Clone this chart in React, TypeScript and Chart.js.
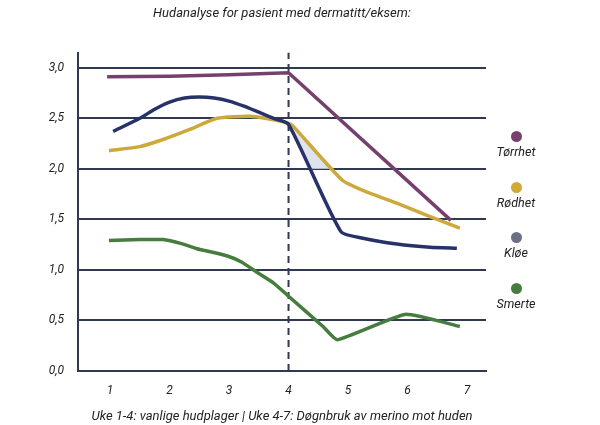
import React, { useEffect, useRef } from "react";
import { Chart, registerables } from "chart.js";

Chart.register(...registerables);

// ---- Text ----
const chartTitle = "Hudanalyse for pasient med dermatitt/eksem:";
const xAxisTitle = "Uke 1-4: vanlige hudplager | Uke 4-7: Døgnbruk av merino mot huden";

// ---- Ticks ----
const weekTicks = [1, 2, 3, 4, 5, 6, 7];
const valueTicks = [0, 0.5, 1, 1.5, 2, 2.5, 3];

// ---- Legend ----
const seriesNames = ["Tørrhet", "Rødhet", "Kløe", "Smerte"];
const legendColors = ["#77416f", "#cfa93a", "#6b7084", "#477c3f"];

// ---- Series (week, value) ----
const torrhetWeeks = [0.95, 2.0, 3.0, 4.0, 6.73];
const torrhetValues = [2.91, 2.915, 2.93, 2.95, 1.49];

const rodhetWeeks = [0.98, 1.5, 1.89, 2.34, 2.8, 3.35, 3.7, 4.0, 4.08, 4.9, 5.26, 5.82, 6.38, 6.88];
const rodhetValues = [2.18, 2.22, 2.29, 2.39, 2.5, 2.52, 2.49, 2.45, 2.42, 1.89, 1.785, 1.66, 1.528, 1.413];

const kloeWeeks = [1.05, 1.5, 1.75, 2.0, 2.25, 2.5, 2.75, 3.0, 3.25, 3.5, 3.75, 4.0, 4.88, 5.25, 5.82, 6.38, 6.83];
const kloeValues = [2.37, 2.5, 2.59, 2.66, 2.7, 2.71, 2.7, 2.67, 2.62, 2.56, 2.5, 2.44, 1.379, 1.314, 1.257, 1.225, 1.215];

const smerteWeeks = [0.98, 1.5, 1.89, 2.2, 2.46, 2.96, 3.2, 3.46, 3.75, 4.0, 4.58, 4.82, 5.96, 6.88];
const smerteValues = [1.29, 1.3, 1.3, 1.26, 1.21, 1.14, 1.08, 0.98, 0.87, 0.74, 0.44, 0.31, 0.56, 0.44];

// dashed marker at the change of regime
const changeWeek = 4;
const axisTop = 3.15;

// shaded gap between Rødhet and Kløe (above 2,0)
const shadeWeeks = [4.0, 4.08, 4.7, 4.36];
const shadeValues = [2.44, 2.42, 2.0, 2.0];

const colors = {
  torrhet: "#76406e",
  rodhet: "#cda93b",
  kloe: "#27326a",
  smerte: "#467c3d",
  grid: "#2f3a52",
  shade: "#dfe4ec",
  text: "#222222",
};

const fontFamily = "Roboto, 'DejaVu Sans', sans-serif";

const pts = (xs: number[], ys: number[]) => xs.map((x, i) => ({ x, y: ys[i] }));

export default function App() {
  const canvasRef = useRef<HTMLCanvasElement | null>(null);

  useEffect(() => {
    document.body.style.margin = "0";
    const canvas = canvasRef.current;
    if (!canvas) return;
    const chart = new Chart(canvas, {
      type: "line",
      data: {
        datasets: [
          {
            label: seriesNames[2],
            data: pts(kloeWeeks, kloeValues),
            borderColor: colors.kloe,
            borderWidth: 3.5,
            pointRadius: 0,
            tension: 0.2,
            fill: false,
            order: 1,
          },
          {
            label: seriesNames[0],
            data: pts(torrhetWeeks, torrhetValues),
            borderColor: colors.torrhet,
            borderWidth: 3.5,
            pointRadius: 0,
            tension: 0,
            fill: false,
            order: 2,
          },
          {
            label: seriesNames[1],
            data: pts(rodhetWeeks, rodhetValues),
            borderColor: colors.rodhet,
            borderWidth: 3.5,
            pointRadius: 0,
            tension: 0.2,
            fill: false,
            order: 3,
          },
          {
            label: seriesNames[3],
            data: pts(smerteWeeks, smerteValues),
            borderColor: colors.smerte,
            borderWidth: 3.5,
            pointRadius: 0,
            tension: 0.15,
            fill: false,
            order: 4,
          },
          {
            label: "uke4",
            data: [
              { x: changeWeek, y: 0 },
              { x: changeWeek, y: axisTop },
            ],
            borderColor: colors.grid,
            borderWidth: 2,
            borderDash: [7, 5],
            pointRadius: 0,
            fill: false,
            order: 10,
          },
          {
            label: "gap",
            data: pts(shadeWeeks, shadeValues),
            borderWidth: 0,
            borderColor: "rgba(0,0,0,0)",
            backgroundColor: colors.shade,
            pointRadius: 0,
            tension: 0,
            fill: "shape",
            order: 11,
          },
        ],
      },
      options: {
        animation: false,
        responsive: false,
        maintainAspectRatio: false,
        layout: { padding: { left: 0, right: 114, top: 0, bottom: 0 } },
        plugins: {
          legend: { display: false },
          tooltip: { enabled: false },
          title: {
            display: true,
            text: chartTitle,
            fullSize: false,
            color: colors.text,
            font: { family: fontFamily, size: 13, style: "italic", weight: "normal" },
            padding: { top: 6, bottom: 31 },
          },
        },
        scales: {
          x: {
            type: "linear",
            min: 0.46,
            max: 7.32,
            afterBuildTicks: (scale: any) => {
              scale.ticks = weekTicks.map((v) => ({ value: v }));
            },
            afterFit: (scale: any) => {
              scale.height = 54;
            },
            grid: { display: false, drawTicks: false },
            border: { display: true, color: colors.grid, width: 2 },
            ticks: {
              color: colors.text,
              padding: 13,
              font: { family: fontFamily, size: 12, style: "italic" },
              callback: (v: any) => String(v),
            },
            title: {
              display: true,
              text: xAxisTitle,
              color: colors.text,
              padding: { top: 0, bottom: 0 },
              font: { family: fontFamily, size: 13, style: "italic" },
            },
          },
          y: {
            type: "linear",
            min: 0,
            max: axisTop,
            afterBuildTicks: (scale: any) => {
              scale.ticks = valueTicks.map((v) => ({ value: v }));
            },
            afterFit: (scale: any) => {
              scale.width = 78;
            },
            grid: { color: colors.grid, lineWidth: 2, drawTicks: false },
            border: { display: true, color: colors.grid, width: 2 },
            ticks: {
              color: colors.text,
              padding: 14,
              font: { family: fontFamily, size: 12, style: "italic" },
              callback: (v: any) => Number(v).toFixed(1).replace(".", ","),
            },
          },
        },
      },
    } as any);
    return () => chart.destroy();
  }, []);

  const legendTop = [131, 182, 232, 283];

  return (
    <div style={{ position: "relative", width: 600, height: 425, background: "#fff" }}>
      <canvas ref={canvasRef} width={600} height={425} style={{ display: "block" }} />
      {seriesNames.map((name, i) => (
        <div
          key={name}
          style={{
            position: "absolute",
            left: 476,
            width: 80,
            top: legendTop[i],
            textAlign: "center",
            fontFamily,
            fontStyle: "italic",
            fontSize: 12.5,
            color: colors.text,
            lineHeight: "14px",
          }}
        >
          <div
            style={{
              width: 11,
              height: 11,
              borderRadius: "50%",
              background: legendColors[i],
              margin: "0 auto 3px auto",
            }}
          />
          <div>{name}</div>
        </div>
      ))}
    </div>
  );
}
